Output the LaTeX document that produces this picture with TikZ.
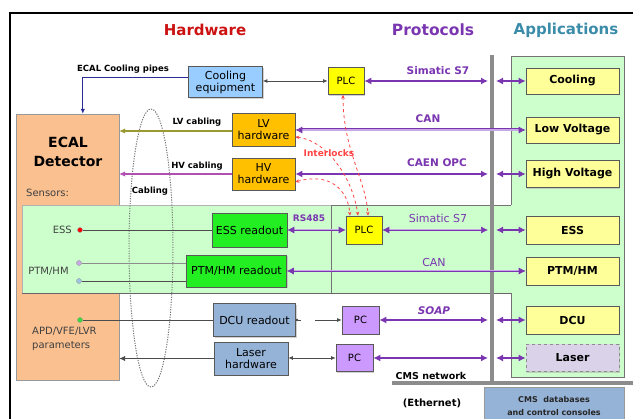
\documentclass[tikz,border=0pt]{standalone}
\usepackage{fontspec}
\setmainfont{DejaVu Sans}
\usetikzlibrary{arrows.meta,shadows,calc}
\definecolor{peach}{HTML}{FAC090}
\definecolor{lgreen}{HTML}{CCFFCC}
\definecolor{appyellow}{HTML}{FFFF99}
\definecolor{hwor}{HTML}{FFC000}
\definecolor{plcy}{HTML}{FFFF00}
\definecolor{brgreen}{HTML}{22EE22}
\definecolor{steel}{HTML}{95B3D7}
\definecolor{coolblue}{HTML}{99CCFF}
\definecolor{pcviolet}{HTML}{CC99FF}
\definecolor{laserlav}{HTML}{D9D2E9}
\definecolor{purp}{HTML}{7A35B0}
\definecolor{lpurp}{HTML}{C9A8E6}
\definecolor{barg}{HTML}{8C8C8C}
\definecolor{hwred}{HTML}{CC1111}
\definecolor{apteal}{HTML}{3A8CA8}
\definecolor{olivel}{HTML}{9A9A30}
\definecolor{magen}{HTML}{B050B0}
\definecolor{navyb}{HTML}{2A2A99}
\definecolor{ilred}{HTML}{FF4444}
\definecolor{txtgray}{HTML}{404040}
\definecolor{dotlav}{HTML}{C8A8E8}
\definecolor{dotblue}{HTML}{9DC3E6}
\definecolor{dotgreen}{HTML}{33DD33}
\begin{document}
\begin{tikzpicture}[x=1pt,y=-1pt,
  box/.style={draw=black!65, line width=0.6pt, inner sep=1pt, align=center, font=\fontsize{11}{12}\selectfont},
  shad/.style={drop shadow={shadow xshift=1.3pt,shadow yshift=-1.3pt,fill=black!30,opacity=.6}},
  appbox/.style={box, shad, fill=appyellow, minimum width=93pt, font=\bfseries\fontsize{11}{12}\selectfont},
  parr/.style={draw=purp, line width=1.6pt, {Latex[length=7pt,width=7pt]}-{Latex[length=7pt,width=7pt]}},
  pdbl/.style={draw=purp, double=lpurp, double distance=1pt, line width=0.7pt, {Latex[length=7pt,width=7pt]}-{Latex[length=7pt,width=7pt]}},
  lbl/.style={font=\bfseries\fontsize{8.5}{9}\selectfont, inner sep=0pt},
  plbl/.style={text=purp, font=\bfseries\fontsize{10.5}{11}\selectfont, inner sep=0pt},
  prlbl/.style={text=purp, font=\fontsize{11}{12}\selectfont, inner sep=0pt},
  stxt/.style={text=txtgray, font=\fontsize{10}{14}\selectfont, inner sep=0pt},
  wire/.style={draw=black!70, line width=0.9pt},
  sboth/.style={{Latex[length=4.5pt,width=4pt]}-{Latex[length=4.5pt,width=4pt]}},
  ilk/.style={draw=ilred, line width=0.8pt, dashed, {Stealth[length=4pt,width=3.5pt]}-{Stealth[length=4pt,width=3.5pt]}},
  sdot/.style={circle, inner sep=0pt, minimum size=5pt, draw=black!40}
]
\useasboundingbox (0,0) rectangle (633,419);
% frame
\draw[line width=1.3pt] (10,419) -- (10,13) -- (633,13);
% titles
\node[text=hwred, font=\bfseries\fontsize{15}{16}\selectfont] (thw) at (205,30) {Hardware};
\node[text=purp, font=\bfseries\fontsize{15.5}{16}\selectfont] (tpr) at (433,30) {Protocols};
\node[text=apteal, font=\bfseries\fontsize{15}{16}\selectfont] (tap) at (566,30) {Applications};
% ECAL detector
\node[draw=black!40, fill=peach, minimum width=103pt, minimum height=266pt, inner sep=0pt] (ecal) at (67.5,247) {};
\node[align=center, font=\bfseries\fontsize{14}{19}\selectfont, inner sep=0pt] (ecalt) at (68,151.5) {ECAL\\Detector};
\node[stxt, anchor=west] (sens) at (26,193) {Sensors:};
% green regions
\fill[lgreen] (511,56) rectangle (624,377);
\fill[lgreen] (22,205) rectangle (511,293);
\draw[black!55, line width=0.8pt] (511,205) -- (511,56) -- (624,56) -- (624,377) -- (511,377) -- (511,293);
\draw[black!30, line width=0.6pt] (331,205) -- (22,205) -- (22,293);
\draw[black!60, line width=0.9pt] (22,293) -- (511,293);
\draw[black!55, line width=0.8pt] (331,293) -- (331,205) -- (511,205);
% network bars
\draw[barg, line width=4pt] (492,55) -- (492,381);
\draw[barg, line width=4pt] (392,383) -- (633,383);
\node[fill=steel, draw=black!40, minimum width=140pt, minimum height=40pt, anchor=north west, inner sep=0pt] (cms) at (484,387) {};
\node[align=center, font=\bfseries\fontsize{8}{13}\selectfont, text=black!85, inner sep=0pt] (cmst) at (554,406.5) {CMS\ \ databases\\and control consoles};
\node[lbl, font=\bfseries\fontsize{9.5}{10}\selectfont] (cmsn) at (431,376) {CMS network};
\node[lbl, font=\bfseries\fontsize{10}{11}\selectfont] (eth) at (432,403) {(Ethernet)};
% cabling ellipse
\draw[black!55, line width=1pt, dash pattern=on 1.2pt off 1.3pt] (151,248) ellipse [x radius=22pt, y radius=139pt];
\node[lbl] (cabl) at (150,191) {Cabling};
% hardware boxes
\node[box, fill=coolblue, shad, minimum width=74pt, minimum height=31pt] (cooleq) at (225.5,82) {Cooling\\equipment};
\node[box, fill=plcy, shad, minimum width=36pt, minimum height=27pt, font=\fontsize{10}{11}\selectfont] (plc1) at (346,81) {PLC};
\node[box, fill=hwor, minimum width=63pt, minimum height=33pt] (lv) at (263.5,129.5) {LV\\hardware};
\node[box, fill=hwor, minimum width=63pt, minimum height=32pt] (hv) at (263.5,174) {HV\\hardware};
\node[box, fill=brgreen, shad, minimum width=75pt, minimum height=34pt] (essr) at (249.5,230) {ESS readout};
\node[box, fill=brgreen, shad, minimum width=100pt, minimum height=32pt] (ptmr) at (236.5,271) {PTM/HM readout};
\node[box, fill=plcy, shad, minimum width=36pt, minimum height=28pt, font=\fontsize{10}{11}\selectfont] (plc2) at (364,230) {PLC};
\node[box, fill=steel, shad, minimum width=82pt, minimum height=33pt] (dcur) at (254.5,320) {DCU readout};
\node[box, fill=steel, shad, minimum width=74pt, minimum height=33pt] (laserhw) at (251,358.5) {Laser\\hardware};
\node[box, fill=pcviolet, shad, minimum width=37pt, minimum height=28pt, font=\fontsize{10}{11}\selectfont] (pc1) at (360.5,320) {PC};
\node[box, fill=pcviolet, shad, minimum width=37pt, minimum height=27pt, font=\fontsize{10}{11}\selectfont] (pc2) at (354.5,358) {PC};
% application boxes
\node[appbox, minimum height=26pt] (acool) at (572.5,81) {Cooling};
\node[appbox, minimum height=26pt] (alv) at (572.5,130) {Low Voltage};
\node[appbox, minimum height=27pt] (ahv) at (572.5,174) {High Voltage};
\node[appbox, minimum height=28pt] (aess) at (572.5,230) {ESS};
\node[appbox, minimum height=28pt] (aptm) at (572.5,271) {PTM/HM};
\node[appbox, minimum height=28pt] (adcu) at (572.5,320) {DCU};
\node[appbox, fill=laserlav, dashed, draw=black!45, minimum height=27pt] (alas) at (572.5,358) {Laser};
% bar coordinates
\coordinate (b1) at (488,81);  \coordinate (b1r) at (496,81);
\coordinate (b3) at (488,174); \coordinate (b3r) at (496,174);
\coordinate (b4) at (488,230); \coordinate (b4r) at (496,230);
\coordinate (b6) at (488,320); \coordinate (b6r) at (496,320);
\coordinate (b7) at (488,358); \coordinate (b7r) at (496,358);
% sensors
\node[stxt, anchor=east] (tess) at (72,230) {ESS};
\node[stxt] (tptm) at (48.5,271) {PTM/HM};
\node[stxt, anchor=west, align=left] (tapd) at (32,339) {APD/VFE/LVR\\parameters};
\node[sdot, fill=red] (sess) at (80,230) {};
\node[sdot, fill=dotlav] (sptm1) at (79,263) {};
\node[sdot, fill=dotblue] (sptm2) at (79,281) {};
\node[sdot, fill=dotgreen] (sdcu) at (80,320) {};
\draw[wire] (sess) -- (essr.west);
\draw[black!45, line width=0.8pt] (sptm1) -- (sptm1 -| ptmr.west);
\draw[wire] (sptm2) -- (sptm2 -| ptmr.west);
\draw[wire] (sdcu) -- (sdcu -| dcur.west);
% cabling to detector
\draw[navyb, line width=1pt, -{Latex[length=5pt,width=4.5pt]}] ($(cooleq.west)+(0,-4)$) -| ($(ecal.north west)+(67,0)$);
\node[lbl] (tpipes) at (123,69) {ECAL Cooling pipes};
\coordinate (lvw) at ($(lv.west)+(0,1.5)$);
\draw[olivel, line width=1.1pt, -{Latex[length=6pt,width=5.5pt]}] (lvw) -- (lvw -| ecal.east);
\node[lbl] (tlvc) at (197,122) {LV cabling};
\draw[magen, line width=1.1pt, -{Latex[length=6pt,width=5.5pt]}] (hv.west) -- (hv.west -| ecal.east);
\node[lbl] (thvc) at (197,166) {HV cabling};
\draw[wire, -{Latex[length=6pt,width=5.5pt]}] (laserhw.west) -- (laserhw.west -| ecal.east);
% local hardware links
\draw[wire, line width=0.8pt, sboth] (cooleq.east |- plc1.west) -- (plc1.west);
\draw[wire, line width=0.8pt, {Circle[length=2.5pt]}-{Latex[length=4.5pt,width=4pt]}, dash pattern=on 3pt off 14pt on 60pt] (dcur.east) -- (pc1.west);
\draw[wire, line width=0.8pt, sboth] (laserhw.east |- pc2.west) -- (pc2.west);
% protocols
\draw[parr] (plc1.east) -- (b1);
\draw[parr] (b1r) -- (acool.west);
\node[plbl] (ts7a) at (438,71) {Simatic S7};
\draw[pdbl, line width=0.9pt, double distance=1.2pt] (lv.east |- alv.west) -- (alv.west);
\node[plbl] (tcan1) at (428,119) {CAN};
\draw[parr] (hv.east) -- (b3);
\draw[parr] (b3r) -- (ahv.west);
\node[plbl] (tcaen) at (437,163) {CAEN OPC};
\draw[pdbl] (essr.east) -- (plc2.west);
\node[plbl, font=\bfseries\fontsize{9}{10}\selectfont] (trs) at (309,218) {RS485};
\draw[pdbl] (plc2.east) -- (b4);
\draw[parr] (b4r) -- (aess.west);
\node[prlbl] (ts7b) at (438,218) {Simatic S7};
\draw[pdbl] (ptmr.east) -- (aptm.west);
\node[prlbl] (tcan2) at (434,262) {CAN};
\draw[parr] (pc1.east) -- (b6);
\draw[parr] (b6r) -- (adcu.west);
\node[plbl, font=\bfseries\itshape\fontsize{10.5}{11}\selectfont] (tsoap) at (434,311) {SOAP};
\draw[parr] (pc2.east) -- (b7);
\draw[parr] (b7r) -- (alas.west);
% interlocks
\draw[ilk] ($(lv.east)+(0,7.5)$) .. controls (325,140) and (352,175) .. ($(plc2.north)+(-6,0)$);
\draw[ilk] ($(hv.east)+(0,8)$) .. controls (330,172) and (348,190) .. ($(plc2.north)+(-14,0)$);
\draw[ilk] ($(plc1.south)+(-3,0)$) .. controls (343,150) and (366,180) .. ($(plc2.north)+(4,0)$);
\node[text=ilred, font=\bfseries\fontsize{9}{10}\selectfont, inner sep=0pt] (tilk) at (329,153) {Interlocks};
\end{tikzpicture}
\end{document}
